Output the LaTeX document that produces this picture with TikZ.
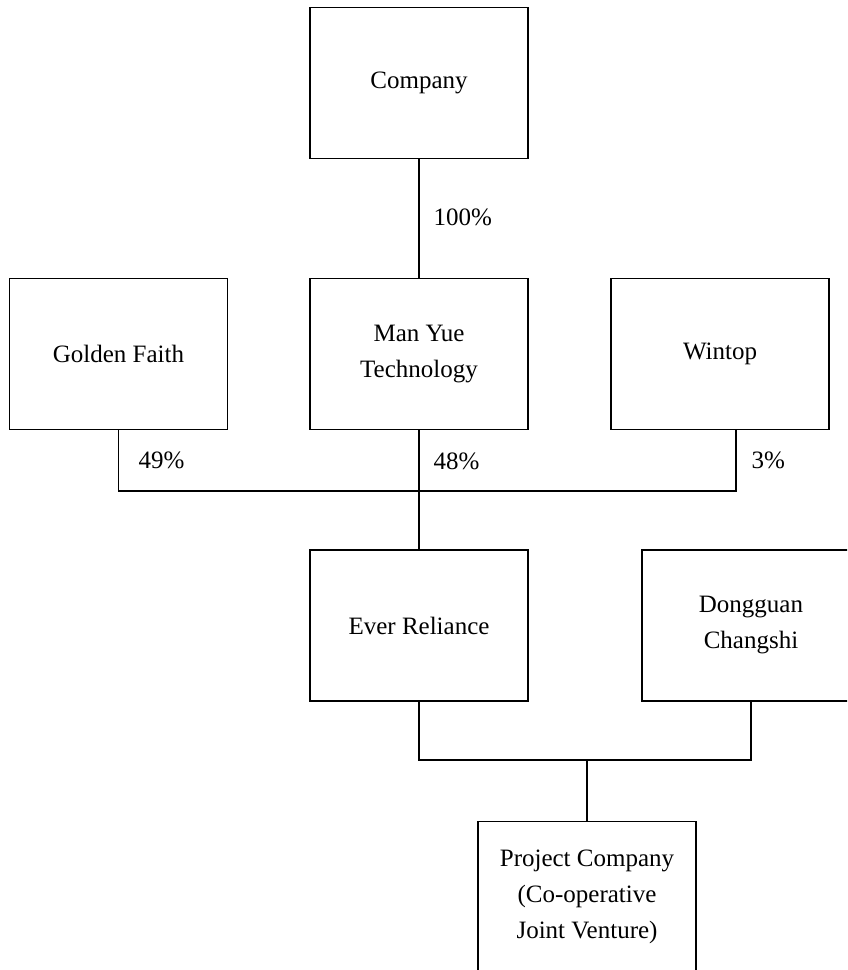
\documentclass[tikz,border=0pt]{standalone}
\usepackage{fontspec}
\setmainfont{Liberation Serif}
\begin{document}
\begin{tikzpicture}[x=0.5pt,y=-0.5pt,line width=0.6pt,
  entity/.style={draw,minimum width=109pt,minimum height=75.5pt,align=center,inner sep=0pt,font=\fontsize{12.5}{18}\selectfont},
  share/.style={anchor=west,inner sep=0pt,font=\fontsize{12.5}{18}\selectfont}]
 \useasboundingbox (0,0) rectangle (847,970);
 \clip (0,0) rectangle (847,970);

 \node[entity] (company) at (419,83) {Company};
 \node[entity] (golden) at (118.5,354) {Golden Faith};
 \node[entity] (manyue) at (419,354) {Man Yue\\Technology};
 \node[entity] (wintop) at (720,354) {Wintop};
 \node[entity] (ever) at (419,625.5) {Ever Reliance};
 \node[entity] (dongguan) at (751,625.5) {Dongguan\\Changshi};
 \node[entity] (project) at (587,897) {Project Company\\(Co-operative\\Joint Venture)};

 \node[share] (p100) at (433,217) {100\%};
 \node[share] (p49) at (138,460) {49\%};
 \node[share] (p48) at (433,461) {48\%};
 \node[share] (p3) at (751,460) {3\%};

 \coordinate (wt) at ([xshift=8pt]wintop.south);
 \coordinate (upper) at (419,491);
 \coordinate (lower) at (587,760);

 \draw (company.south) -- (manyue.north);
 \draw (golden.south) |- (upper) -| (wt);
 \draw (manyue.south) -- (ever.north);
 \draw (ever.south) |- (lower) -| (dongguan.south);
 \draw (lower) -- (project.north);
\end{tikzpicture}
\end{document}
